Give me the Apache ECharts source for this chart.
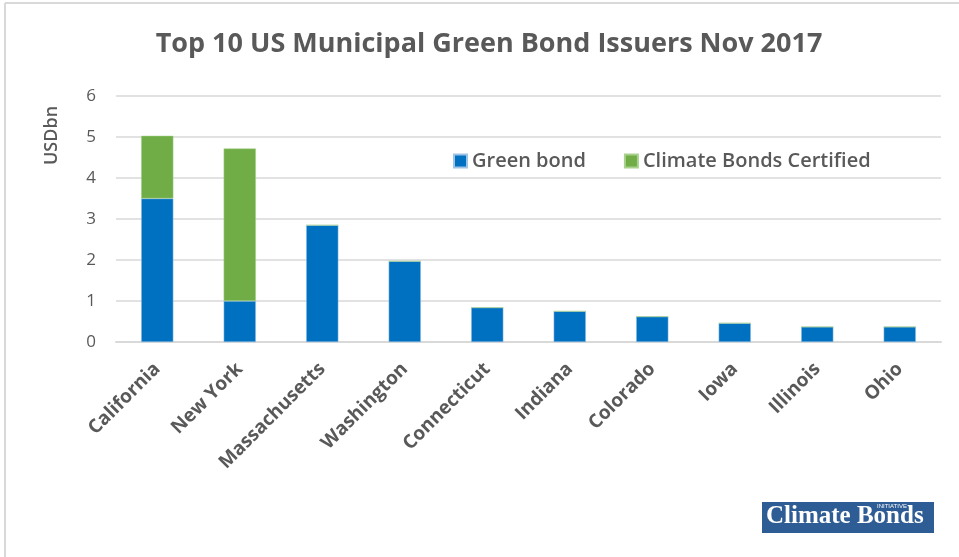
<!DOCTYPE html>
<html>
<head>
<meta charset="utf-8">
<script src="https://cdn.jsdelivr.net/npm/echarts@6/dist/echarts.min.js"></script>
<style>html,body{margin:0;padding:0;background:#fff}#c{width:959px;height:557px}</style>
</head>
<body>
<div id="c"></div>
<script>
const categories = ['California','New York','Massachusetts','Washington','Connecticut','Indiana','Colorado','Iowa','Illinois','Ohio'];
const greenBond = [3.50, 1.00, 2.85, 1.97, 0.84, 0.75, 0.62, 0.46, 0.37, 0.37];
const certified = [1.53, 3.72, 0, 0, 0, 0, 0, 0, 0, 0];
const yTicks = [0, 1, 2, 3, 4, 5, 6];
const FONT = '"Open Sans", "Noto Sans", sans-serif';
const TXT = '#595959';

const chart = echarts.init(document.getElementById('c'));
chart.setOption({
  animation: false,
  backgroundColor: '#fff',
  title: {
    text: 'Top 10 US Municipal Green Bond Issuers Nov 2017',
    left: 484, textAlign: 'center', top: 26,
    textStyle: { fontFamily: FONT, fontSize: 27, fontWeight: 'bold', color: TXT }
  },
  legend: {
    left: 448, top: 146, itemWidth: 13, itemHeight: 13, itemGap: 38,
    icon: 'rect',
    textStyle: { fontFamily: FONT, fontSize: 20, fontWeight: 600, color: TXT },
    data: ['Green bond', 'Climate Bonds Certified']
  },
  grid: { left: 116, right: 18, top: 96, bottom: 215 },
  xAxis: {
    type: 'category', data: categories,
    axisLine: { lineStyle: { color: '#d9d9d9', width: 2 } },
    axisTick: { show: false },
    axisLabel: { rotate: 45, fontFamily: FONT, fontSize: 19, fontWeight: 'bold', color: TXT, margin: 24, interval: 0 }
  },
  yAxis: {
    type: 'value', min: yTicks[0], max: yTicks[yTicks.length - 1], interval: 1,
    axisLine: { show: false }, axisTick: { show: false },
    axisLabel: { fontFamily: FONT, fontSize: 17, color: TXT, margin: 20 },
    splitLine: { lineStyle: { color: '#d9d9d9', width: 1.5 } }
  },
  series: [
    { name: 'Green bond', type: 'bar', stack: 'a', data: greenBond, barWidth: '39%',
      itemStyle: { color: '#0070c0', borderColor: '#9dc3e6', borderWidth: 0.5 } },
    { name: 'Climate Bonds Certified', type: 'bar', stack: 'a', data: certified, barWidth: '39%',
      itemStyle: { color: '#70ad47', borderColor: '#a9d18e', borderWidth: 0.5 } }
  ],
  graphic: [
    { type: 'line', shape: { x1: 5, y1: 3, x2: 959, y2: 3 }, style: { stroke: '#d9d9d9', lineWidth: 2 } },
    { type: 'line', shape: { x1: 5, y1: 3, x2: 5, y2: 557 }, style: { stroke: '#d9d9d9', lineWidth: 2 } },
    { type: 'text', x: 43, y: 165, rotation: Math.PI / 2, originX: 0, originY: 0,
      style: { text: 'USDbn', fill: TXT, font: '600 18px ' + FONT, verticalAlign: 'top', align: 'left' } },
    { type: 'rect', shape: { x: 762, y: 502, width: 172, height: 31 }, style: { fill: '#2e5c94' } },
    { type: 'text', x: 766, y: 504, style: { text: 'Climate Bonds', fill: '#fff', font: 'bold 25px "Liberation Serif", "DejaVu Serif", serif' } },
    { type: 'text', x: 877, y: 503, style: { text: 'INITIATIVE', fill: '#fff', font: '6px "Liberation Sans", sans-serif' } }
  ]
});
</script>
</body>
</html>
